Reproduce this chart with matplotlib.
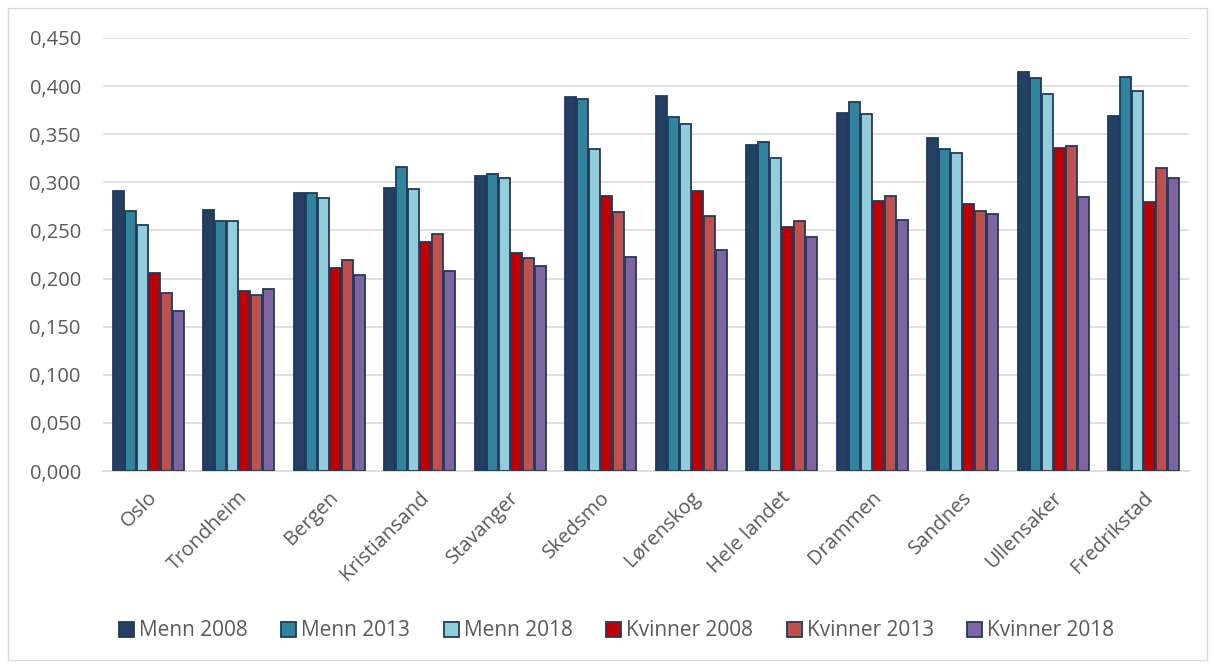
import matplotlib.pyplot as plt
import numpy as np
from matplotlib.patches import Rectangle
from matplotlib.ticker import FuncFormatter
from matplotlib.transforms import ScaledTranslation

plt.rcParams['font.family'] = ['Open Sans', 'DejaVu Sans']

cities = ['Oslo', 'Trondheim', 'Bergen', 'Kristiansand', 'Stavanger', 'Skedsmo',
          'Lørenskog', 'Hele landet', 'Drammen', 'Sandnes', 'Ullensaker', 'Fredrikstad']

menn_2008 = [0.291, 0.271, 0.289, 0.294, 0.307, 0.389, 0.390, 0.339, 0.372, 0.346, 0.415, 0.369]
menn_2013 = [0.270, 0.260, 0.289, 0.316, 0.309, 0.387, 0.368, 0.342, 0.384, 0.335, 0.408, 0.409]
menn_2018 = [0.256, 0.260, 0.284, 0.293, 0.304, 0.335, 0.361, 0.325, 0.371, 0.331, 0.392, 0.395]
kvinner_2008 = [0.206, 0.187, 0.211, 0.238, 0.227, 0.286, 0.291, 0.254, 0.281, 0.278, 0.336, 0.280]
kvinner_2013 = [0.185, 0.183, 0.219, 0.246, 0.221, 0.269, 0.265, 0.260, 0.286, 0.270, 0.338, 0.315]
kvinner_2018 = [0.166, 0.189, 0.204, 0.208, 0.213, 0.222, 0.230, 0.2435, 0.261, 0.2675, 0.285, 0.305]

series = [
    ('Menn 2008', menn_2008, '#243F60'),
    ('Menn 2013', menn_2013, '#31849B'),
    ('Menn 2018', menn_2018, '#92CDDC'),
    ('Kvinner 2008', kvinner_2008, '#C00000'),
    ('Kvinner 2013', kvinner_2013, '#C0504D'),
    ('Kvinner 2018', kvinner_2018, '#8064A2'),
]

fig = plt.figure(figsize=(12.14, 6.64), dpi=100)
fig.patches.append(Rectangle((8 / 1214, 4 / 664), 1199 / 1214, 652 / 664,
                             transform=fig.transFigure, fill=False,
                             edgecolor='#D9D9D9', linewidth=1))
ax = fig.add_axes([103 / 1214, 1 - 471 / 664, 1086 / 1214, 433 / 664])

x = np.arange(len(cities))
w = 0.132
for i, (name, vals, col) in enumerate(series):
    ax.bar(x + (i - 2.5) * w, vals, w * 0.92, color=col, edgecolor='#1F3A5F',
           linewidth=1.3, label=name, zorder=3)

ax.set_ylim(0, 0.45)
ax.set_xlim(-0.5, len(cities) - 0.5)
ax.set_yticks(np.arange(0, 0.451, 0.05))
ax.yaxis.set_major_formatter(FuncFormatter(lambda v, p: f'{v:.3f}'.replace('.', ',')))
ax.grid(axis='y', color='#D9D9D9', linewidth=1.2, zorder=0)
for s in ['top', 'right', 'left']:
    ax.spines[s].set_visible(False)
ax.spines['bottom'].set_color('#D9D9D9')
ax.spines['bottom'].set_linewidth(1.2)
ax.tick_params(length=0, labelsize=14.5, labelcolor='#595959')
ax.tick_params(axis='y', pad=16)
ax.tick_params(axis='x', pad=17)
ax.set_xticks(x)
ax.set_xticklabels(cities, rotation=45, ha='right', va='center', rotation_mode='anchor')
shift = ScaledTranslation(6 / 100, 0, fig.dpi_scale_trans)
for lbl in ax.get_xticklabels():
    lbl.set_transform(lbl.get_transform() + shift)

fig.legend(loc='center', bbox_to_anchor=(0.508, 1 - 631 / 664), ncol=6, frameon=False,
           fontsize=15, labelcolor='#595959', handlelength=0.72, handleheight=0.72,
           handletextpad=0.25, columnspacing=1.6)

plt.savefig('out.png', dpi=100)
